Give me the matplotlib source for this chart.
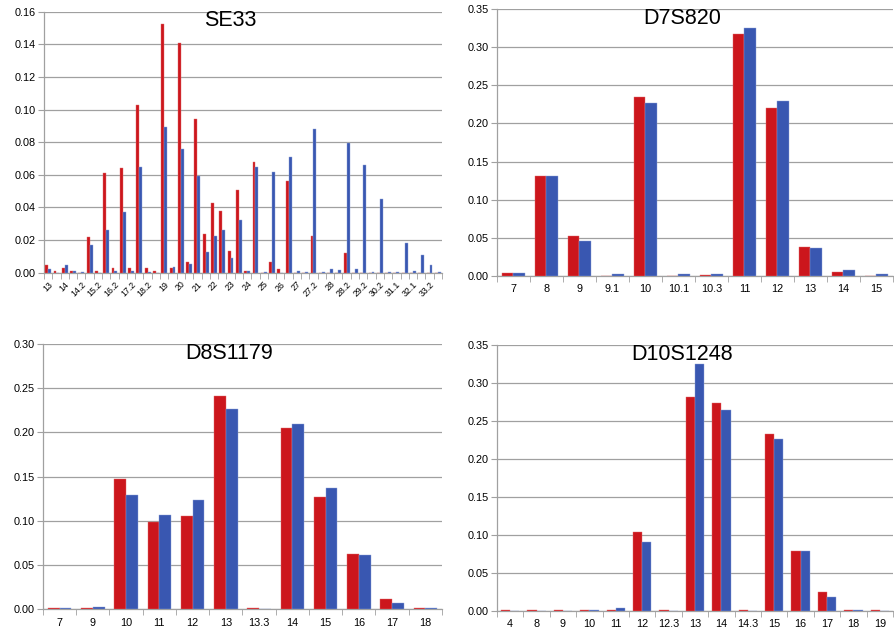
import numpy as np
import matplotlib
matplotlib.use('Agg')
import matplotlib.pyplot as plt
from matplotlib.ticker import FixedLocator, FormatStrFormatter

plt.rcParams['font.family'] = ['Liberation Sans', 'DejaVu Sans']

RED = '#CC161C'
BLUE = '#3957B1'
GRID = '#A0A0A0'

# SE33 alleles (only every other label is printed in the chart)
se33_alleles = ['13', '13.2', '14', '14.1', '14.2', '15', '15.2', '16', '16.2', '17',
                '17.2', '18', '18.2', '18.3', '19', '19.2', '20', '20.2', '21', '21.2',
                '22', '22.2', '23', '23.2', '24', '24.2', '25', '25.2', '26', '26.2',
                '27', '27.1', '27.2', '27.3', '28', '28.1', '28.2', '29', '29.2', '30',
                '30.2', '31', '31.1', '31.2', '32.1', '32.2', '33.2', '34.2']
se33_red = [0.005, 0.001, 0.003, 0.0012, 0.0, 0.022, 0.001, 0.0613, 0.003, 0.064,
            0.003, 0.103, 0.003, 0.001, 0.1524, 0.003, 0.1406, 0.0065, 0.0942, 0.024,
            0.043, 0.038, 0.013, 0.051, 0.001, 0.068, 0.0, 0.0065, 0.002, 0.056,
            0.0, 0.0, 0.0225, 0.0, 0.0, 0.0, 0.012, 0.0, 0.0, 0.0,
            0.0, 0.0, 0.0, 0.0, 0.0, 0.0, 0.0, 0.0]
se33_blue = [0.002, 0.0, 0.0045, 0.001, 0.0005, 0.017, 0.0, 0.026, 0.001, 0.037,
             0.001, 0.065, 0.0005, 0.0, 0.0891, 0.0035, 0.0756, 0.0055, 0.059, 0.0125,
             0.0225, 0.026, 0.009, 0.032, 0.001, 0.065, 0.0005, 0.0615, 0.0, 0.071,
             0.001, 0.0005, 0.088, 0.0005, 0.0025, 0.0015, 0.0795, 0.0025, 0.066, 0.0005,
             0.045, 0.0005, 0.0005, 0.018, 0.001, 0.011, 0.0045, 0.0005]

d7_alleles = ['7', '8', '9', '9.1', '10', '10.1', '10.3', '11', '12', '13', '14', '15']
d7_red = [0.003, 0.1305, 0.052, 0.0, 0.235, 0.0, 0.001, 0.318, 0.220, 0.038, 0.005, 0.0]
d7_blue = [0.004, 0.1305, 0.045, 0.002, 0.227, 0.002, 0.002, 0.325, 0.229, 0.036, 0.007, 0.002]

d8_alleles = ['7', '9', '10', '11', '12', '13', '13.3', '14', '15', '16', '17', '18']
d8_red = [0.001, 0.002, 0.1474, 0.0984, 0.106, 0.2412, 0.001, 0.205, 0.127, 0.063, 0.012, 0.001]
d8_blue = [0.001, 0.003, 0.1293, 0.107, 0.1236, 0.2265, 0.0, 0.2092, 0.1368, 0.061, 0.007, 0.001]

d10_alleles = ['4', '8', '9', '10', '11', '12', '12.3', '13', '14', '14.3', '15', '16',
               '17', '18', '19']
d10_red = [0.001, 0.001, 0.001, 0.0015, 0.001, 0.104, 0.001, 0.281, 0.2736, 0.001,
           0.2323, 0.078, 0.024, 0.001, 0.001]
d10_blue = [0.0, 0.0, 0.0, 0.001, 0.003, 0.090, 0.0, 0.3245, 0.264, 0.0,
            0.2257, 0.0786, 0.0176, 0.001, 0.0]

W, H = 895, 635
fig = plt.figure(figsize=(W / 100, H / 100), dpi=100)


def panel(left, right, top, bottom, title, labels, red, blue, ymax, ystep,
          every_other=False):
    # position given in pixels of the 895x635 picture
    ax = fig.add_axes([left / W, 1 - bottom / H, (right - left) / W, (bottom - top) / H])
    n = len(labels)
    x = np.arange(n)
    w = 0.35
    ax.bar(x - w / 2, red, w, color=RED, edgecolor='#E06A6A', linewidth=0.3, zorder=3)
    ax.bar(x + w / 2, blue, w, color=BLUE, edgecolor='#8FA3D8', linewidth=0.3, zorder=3)
    ax.set_xlim(-0.5, n - 0.5)
    ax.set_ylim(0, ymax)
    ax.set_yticks(np.arange(0, ymax + ystep / 2, ystep))
    ax.yaxis.set_major_formatter(FormatStrFormatter('%.2f'))
    ax.grid(axis='y', color=GRID, linewidth=0.9, zorder=0)
    for s in ['top', 'right']:
        ax.spines[s].set_visible(False)
    for s in ['left', 'bottom']:
        ax.spines[s].set_color(GRID)
        ax.spines[s].set_linewidth(0.9)
    ax.tick_params(axis='y', length=4, color=GRID, labelsize=7.8, pad=2)

    # category labels in the middle, tick marks between categories
    ax.set_xticks(x)
    if every_other:
        shown = [lab if i % 2 == 0 else '' for i, lab in enumerate(labels)]
        ax.set_xticklabels(shown, rotation=45, ha='right', va='top',
                           rotation_mode='anchor', fontsize=6.3)
        ax.tick_params(axis='x', which='major', length=0, pad=5)
    else:
        ax.set_xticklabels(labels, fontsize=7.8)
        ax.tick_params(axis='x', which='major', length=0, pad=6)
    ax.xaxis.set_minor_locator(FixedLocator(np.arange(-0.5, n, 1.0)))
    ax.tick_params(axis='x', which='minor', length=4, color=GRID)

    ax.text(0.467, 0.965, title, transform=ax.transAxes,
            ha='center', va='center', fontsize=15.5, zorder=5)
    return ax


panel(44, 442, 11.7, 272.7, 'SE33', se33_alleles, se33_red, se33_blue, 0.16, 0.02,
      every_other=True)
panel(497, 893, 9.3, 275.7, 'D7S820', d7_alleles, d7_red, d7_blue, 0.35, 0.05)
panel(43, 442, 344, 609.3, 'D8S1179', d8_alleles, d8_red, d8_blue, 0.30, 0.05)
panel(497, 893, 345, 610.7, 'D10S1248', d10_alleles, d10_red, d10_blue, 0.35, 0.05)

fig.savefig('out.png', dpi=100)
